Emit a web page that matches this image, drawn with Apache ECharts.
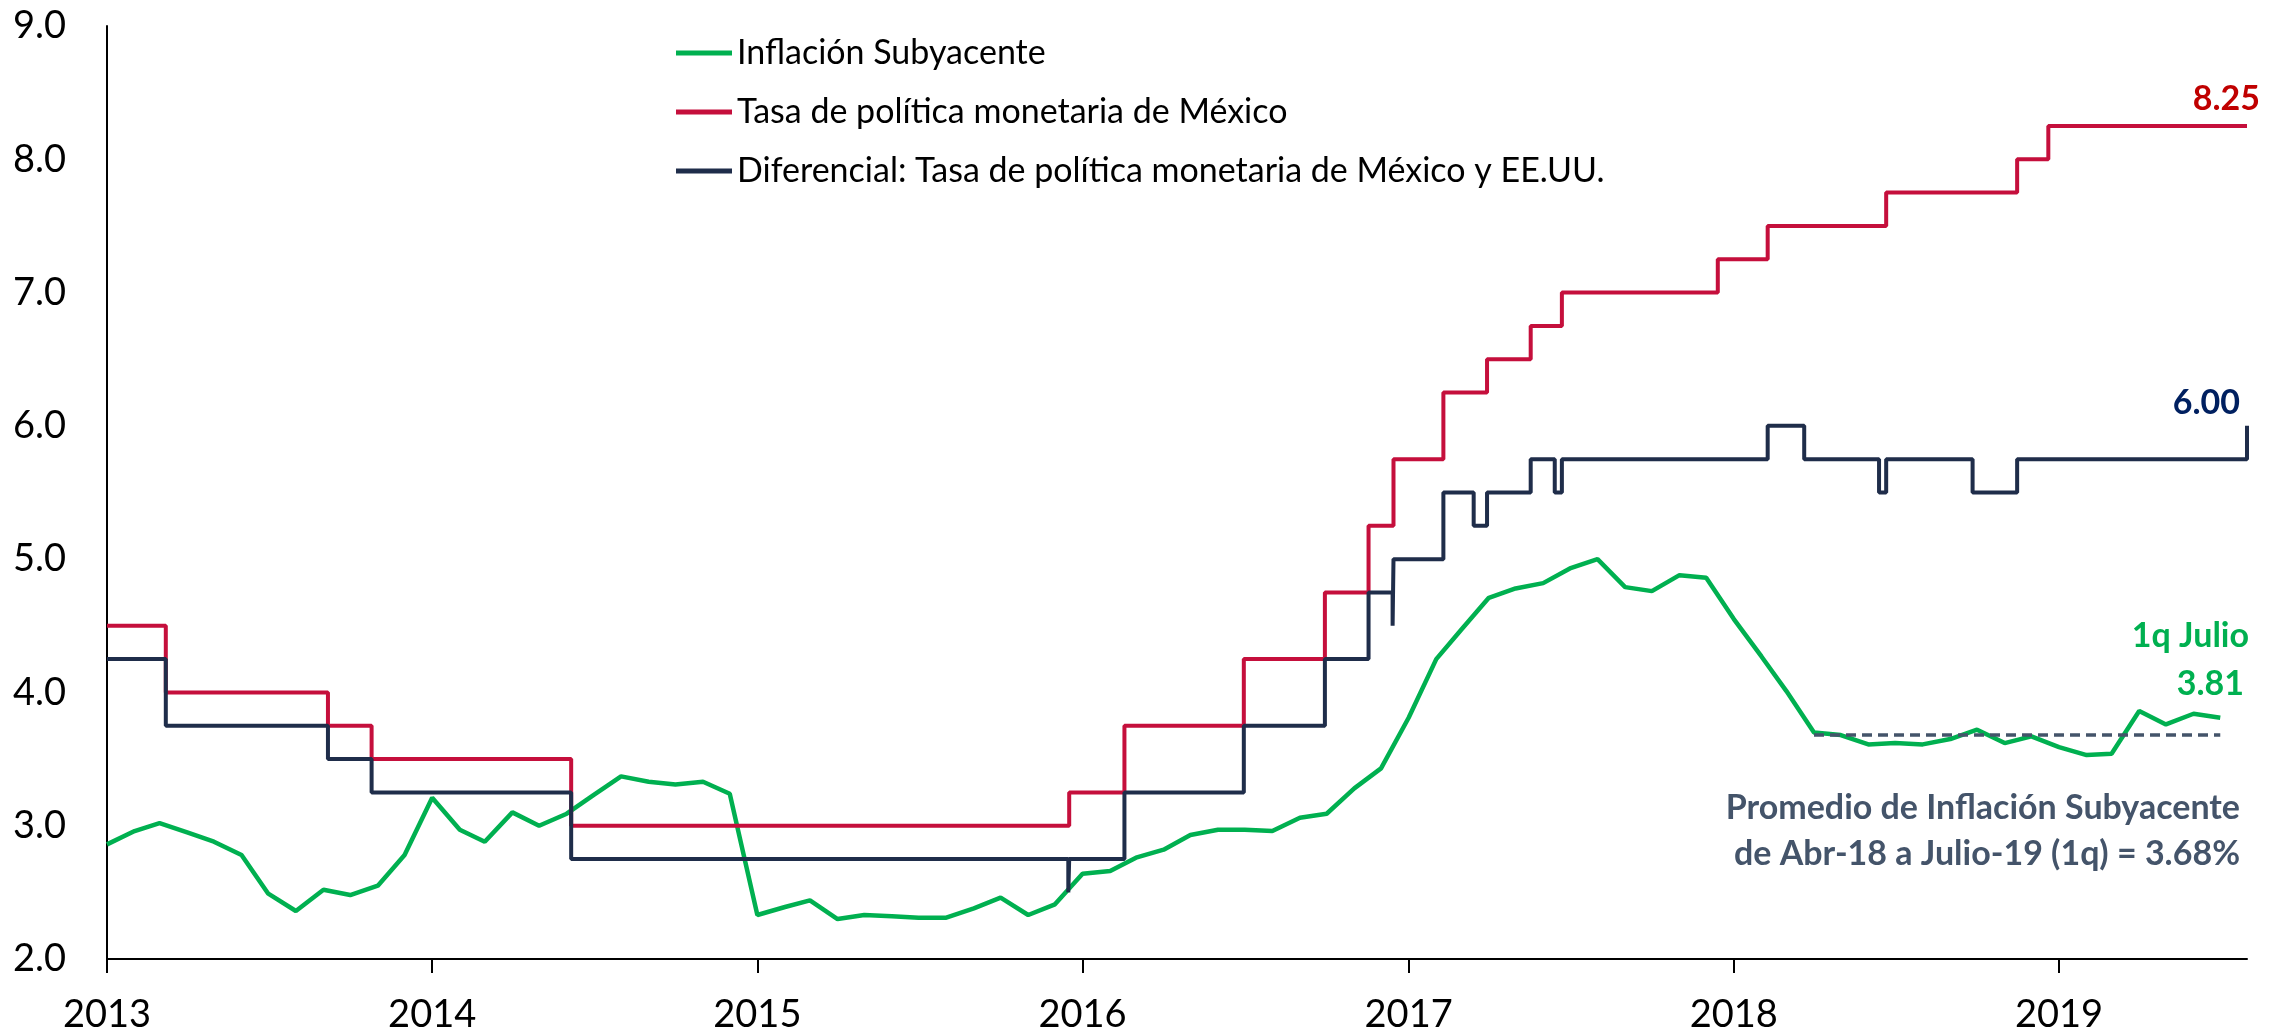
<!DOCTYPE html>
<html lang="es">
<head>
<meta charset="UTF-8" />
<title>Inflación subyacente y tasa de política monetaria</title>
<style>
  * { margin: 0; padding: 0; box-sizing: border-box; }
  #main { width: 2287px; height: 1036px; background: #fff; }
</style>
</head>
<body>
<div id="main"></div>
<script src="https://cdn.jsdelivr.net/npm/echarts@6/dist/echarts.min.js"></script>
<script>
const FONT = "Lato, 'Liberation Sans', sans-serif";

// Inflación subyacente (% anual), un dato por mes desde enero
const core2013 = [2.86, 2.96, 3.02, 2.95, 2.88, 2.78, 2.49, 2.36, 2.52, 2.48, 2.55, 2.78];
const core2014 = [3.21, 2.97, 2.88, 3.10, 3.00, 3.09, 3.23, 3.37, 3.33, 3.31, 3.33, 3.24];
const core2015 = [2.33, 2.39, 2.44, 2.30, 2.33, 2.32, 2.31, 2.31, 2.38, 2.46, 2.33, 2.41];
const core2016 = [2.64, 2.66, 2.76, 2.82, 2.93, 2.97, 2.97, 2.96, 3.06, 3.09, 3.28, 3.43];
const core2017 = [3.81, 4.25, 4.47, 4.71, 4.78, 4.82, 4.93, 5.00, 4.79, 4.76, 4.88, 4.86];
const core2018 = [4.55, 4.27, 4.01, 3.70, 3.68, 3.61, 3.62, 3.61, 3.65, 3.72, 3.62, 3.67];
const core2019 = [3.59, 3.53, 3.54, 3.86, 3.76, 3.84, 3.81];
const coreYears = [2013, 2014, 2015, 2016, 2017, 2018, 2019];
const coreSeries = [core2013, core2014, core2015, core2016, core2017, core2018, core2019];

// Tasa objetivo Banxico: fecha del cambio y nuevo nivel
const tasaFechas = ['2013-01-01', '2013-03-08', '2013-09-06', '2013-10-25', '2014-06-06',
  '2015-12-17', '2016-02-17', '2016-06-30', '2016-09-29', '2016-11-17', '2016-12-15',
  '2017-02-09', '2017-03-30', '2017-05-18', '2017-06-22', '2017-12-14', '2018-02-08',
  '2018-06-21', '2018-11-15', '2018-12-20', '2019-07-31'];
const tasaValores = [4.5, 4.0, 3.75, 3.5, 3.0,
  3.25, 3.75, 4.25, 4.75, 5.25, 5.75,
  6.25, 6.5, 6.75, 7.0, 7.25, 7.5,
  7.75, 8.0, 8.25, 8.25];

// Diferencial tasa México - tasa EE.UU.
const difFechas = ['2013-01-01', '2013-03-08', '2013-09-06', '2013-10-25', '2014-06-06',
  '2015-12-16', '2015-12-17', '2016-02-17', '2016-06-30', '2016-09-29', '2016-11-17',
  '2016-12-14', '2016-12-15', '2017-02-09', '2017-03-15', '2017-03-30', '2017-05-18',
  '2017-06-14', '2017-06-22', '2018-02-08', '2018-03-21', '2018-06-13', '2018-06-21',
  '2018-09-26', '2018-11-15', '2019-07-31'];
const difValores = [4.25, 3.75, 3.5, 3.25, 2.75,
  2.5, 2.75, 3.25, 3.75, 4.25, 4.75,
  4.5, 5.0, 5.5, 5.25, 5.5, 5.75,
  5.5, 5.75, 6.0, 5.75, 5.5, 5.75,
  5.5, 5.75, 6.0];

// Promedio de inflación subyacente abr-18 a jul-19 (1q)
const promedioValor = 3.68;
const promedioDesde = '2018-04-01';
const promedioHasta = '2019-07-01';

const ejeAnios = [2013, 2014, 2015, 2016, 2017, 2018, 2019];
const ejeInicio = '2013-01-01';
const ejeFin = '2019-07-31';

// fecha -> año con decimales (días / 365.25), para un eje de valores
const DAY = 86400000;
const base = Date.UTC(2013, 0, 1);
function yr(y, m, d) {
  return 2013 + (Date.UTC(y, m - 1, d) - base) / DAY / 365.25;
}
function yrStr(s) {
  const p = s.split('-').map(Number);
  return yr(p[0], p[1], p[2]);
}

const coreData = [];
coreYears.forEach((y, k) => {
  coreSeries[k].forEach((v, i) => coreData.push([yr(y, i + 1, 1), v]));
});
const tasaData = tasaFechas.map((d, i) => [yrStr(d), tasaValores[i]]);
const difData = difFechas.map((d, i) => [yrStr(d), difValores[i]]);
const promedioData = [[yrStr(promedioDesde), promedioValor], [yrStr(promedioHasta), promedioValor]];
const yearTicks = ejeAnios.map(y => yr(y, 1, 1));

const GREEN = '#00B050';
const RED = '#C50F3C';
const NAVY = '#1F2D4A';
const SLATE = '#44546A';

const lastCore = coreSeries[coreSeries.length - 1];
const annot = (text, x, y, color) => ({
  type: 'text', x: x, y: y,
  style: { text: text, fill: color, font: 'bold 34px ' + FONT, align: 'right', verticalAlign: 'middle' }
});

const chart = echarts.init(document.getElementById('main'));
chart.setOption({
  backgroundColor: '#fff',
  animation: false,
  grid: { left: 107, right: 40, top: 26, bottom: 77, outerBoundsMode: 'none' },
  legend: {
    data: ['Inflación Subyacente', 'Tasa de política monetaria de México',
      'Diferencial: Tasa de política monetaria de México y EE.UU.'],
    orient: 'vertical',
    left: 671,
    top: 30,
    icon: 'rect',
    itemWidth: 56,
    itemHeight: 5,
    itemGap: 23,
    textStyle: { fontSize: 34, color: '#000', fontFamily: FONT, lineHeight: 36 }
  },
  xAxis: {
    type: 'value',
    min: yrStr(ejeInicio),
    max: yrStr(ejeFin),
    axisLine: { show: true, onZero: false, lineStyle: { color: '#000', width: 2 } },
    axisTick: { show: true, length: 14, customValues: yearTicks, lineStyle: { color: '#000', width: 2 } },
    axisLabel: {
      customValues: yearTicks,
      formatter: v => String(Math.round(v)),
      fontSize: 38, color: '#000', fontFamily: FONT, margin: 37
    },
    splitLine: { show: false }
  },
  yAxis: {
    type: 'value',
    min: 2, max: 9, interval: 1,
    axisLine: { show: true, lineStyle: { color: '#000', width: 2 } },
    axisTick: { show: false },
    axisLabel: { formatter: v => v.toFixed(1), fontSize: 38, color: '#000', fontFamily: FONT, margin: 41 },
    splitLine: { show: false }
  },
  series: [
    {
      name: 'Inflación Subyacente', type: 'line', data: coreData, symbol: 'none',
      lineStyle: { color: GREEN, width: 4.5 }, itemStyle: { color: GREEN }
    },
    {
      name: 'Tasa de política monetaria de México', type: 'line', step: 'end', data: tasaData, symbol: 'none',
      lineStyle: { color: RED, width: 4 }, itemStyle: { color: RED }
    },
    {
      name: 'Diferencial: Tasa de política monetaria de México y EE.UU.', type: 'line', step: 'end',
      data: difData, symbol: 'none',
      lineStyle: { color: NAVY, width: 4 }, itemStyle: { color: NAVY }
    },
    {
      name: 'Promedio', type: 'line', data: promedioData, symbol: 'none', silent: true,
      lineStyle: { color: SLATE, width: 3.5, type: [10, 6] }, itemStyle: { color: SLATE }
    }
  ],
  graphic: [
    annot(tasaValores[tasaValores.length - 1].toFixed(2), 2260, 99, '#C00000'),
    annot(difValores[difValores.length - 1].toFixed(2), 2240, 403, '#002060'),
    annot('1q Julio', 2249, 636, GREEN),
    annot(lastCore[lastCore.length - 1].toFixed(2), 2244, 684, GREEN),
    annot('Promedio de Inflación Subyacente', 2240, 808, SLATE),
    annot('de Abr-18 a Julio-19 (1q) = ' + promedioValor.toFixed(2) + '%', 2240, 854, SLATE)
  ]
});
</script>
</body>
</html>
